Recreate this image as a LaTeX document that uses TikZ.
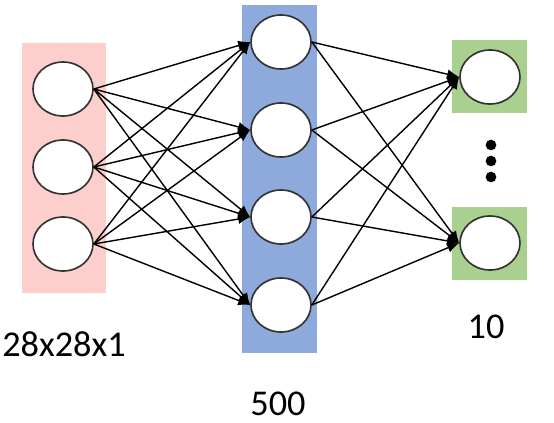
\documentclass[tikz,border=0pt]{standalone}
\usepackage{fontspec}
\setmainfont{Carlito}
\usepackage{xcolor}
\usepackage{tikz}
\usetikzlibrary{arrows.meta,positioning,shapes.geometric}

\definecolor{inpink}{HTML}{FDCFCC}
\definecolor{hidblue}{HTML}{8EA9DB}
\definecolor{outgreen}{HTML}{A9D08E}

\begin{document}
\begin{tikzpicture}[
  x=0.03cm, y=-0.03cm,
  neuron/.style={draw=black!80, ellipse, fill=white, line width=1.4pt, minimum width=1.8cm, minimum height=1.62cm, inner sep=0pt},
  arr/.style={-{Latex[length=3.6mm, width=3mm]}, line width=1.2pt},
  dotnode/.style={circle, fill=black, inner sep=0pt, minimum size=0.32cm},
  lbl/.style={font=\fontsize{31}{36}\selectfont}
]
\useasboundingbox (0,0) rectangle (554,423);

% layer backgrounds
\fill[inpink] (22,43) rectangle (106,293);
\fill[hidblue] (242,5) rectangle (317,353);
\fill[outgreen] (452,40) rectangle (527,113);
\fill[outgreen] (452,207) rectangle (527,280);

\node[neuron] at (63,89)  (in1) {};
\node[neuron] at (63,167) (in2) {};
\node[neuron] at (63,244) (in3) {};

\node[neuron] at (281,42)  (h1) {};
\node[neuron] at (281,130) (h2) {};
\node[neuron] at (281,217) (h3) {};
\node[neuron] at (281,305) (h4) {};

\node[neuron] at (490,77)  (out1) {};
\node[neuron] at (490,243) (out2) {};

\node[dotnode] at (491,145) (dotA) {};
\node[dotnode] at (491,161) (dotB) {};
\node[dotnode] at (491,177) (dotC) {};

\draw[arr] (in1.east) -- (h1.west);
\draw[arr] (in1.east) -- (h2.west);
\draw[arr] (in1.east) -- (h3.west);
\draw[arr] (in1.east) -- (h4.west);
\draw[arr] (in2.east) -- (h1.west);
\draw[arr] (in2.east) -- (h2.west);
\draw[arr] (in2.east) -- (h3.west);
\draw[arr] (in2.east) -- (h4.west);
\draw[arr] (in3.east) -- (h1.west);
\draw[arr] (in3.east) -- (h2.west);
\draw[arr] (in3.east) -- (h3.west);
\draw[arr] (in3.east) -- (h4.west);

\draw[arr] (h1.east) -- (out1.west);
\draw[arr] (h1.east) -- (out2.west);
\draw[arr] (h2.east) -- (out1.west);
\draw[arr] (h2.east) -- (out2.west);
\draw[arr] (h3.east) -- (out1.west);
\draw[arr] (h3.east) -- (out2.west);
\draw[arr] (h4.east) -- (out1.west);
\draw[arr] (h4.east) -- (out2.west);

\node[lbl] at (64,344)  (inlbl) {28x28x1};
\node[lbl] at (278,404) (hidlbl) {500};
\node[lbl] at (486,327) (outlbl) {10};
\end{tikzpicture}
\end{document}
